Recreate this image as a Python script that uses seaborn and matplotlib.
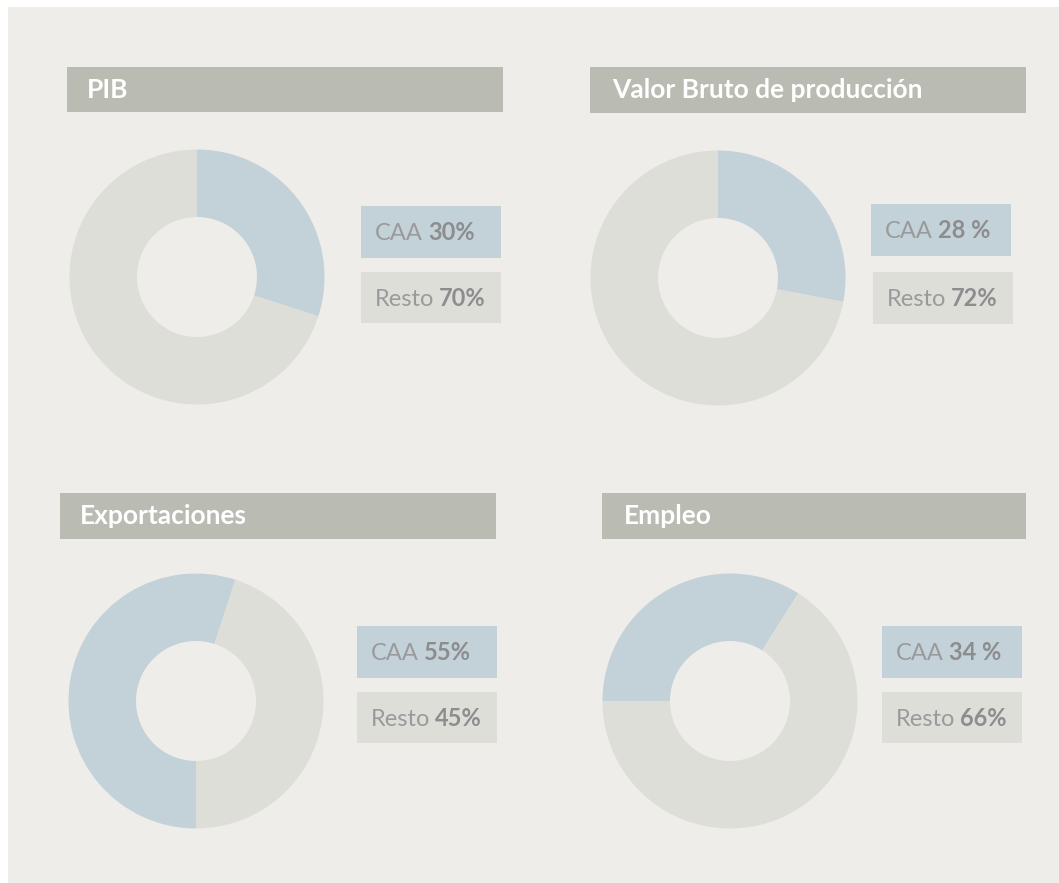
import matplotlib
matplotlib.use("Agg")
import matplotlib.pyplot as plt
import seaborn as sns
from matplotlib.patches import Rectangle

# Data
titles = ["PIB", "Valor Bruto de producción", "Exportaciones", "Empleo"]
caa_values = [30, 28, 55, 34]
resto_values = [70, 72, 45, 66]
caa_labels = ["30%", "28 %", "55%", "34 %"]
resto_labels = ["70%", "72%", "45%", "66%"]
series_names = ["CAA", "Resto"]

# Colours
BG = "#eeede9"
BAR = "#babbb2"
BLUE = "#c3d2d8"
GREY = "#deded9"
TXT = "#9a9a9c"
TXT_B = "#8d8d8f"

# Layout in pixels (x, y measured from top-left)
W, H = 1059, 883
bars = [(67, 67, 503, 112), (590, 67, 1026, 113), (60, 493, 496, 539), (602, 493, 1026, 539)]
title_pad = [20, 22, 20, 22]
centers = [(197, 277), (718, 278), (196, 701), (730, 701)]
start_angles = [90, 90, -90, 180]
caa_boxes = [(361, 206, 501, 258), (871, 204, 1011, 256), (357, 626, 497, 678), (882, 626, 1022, 678)]
resto_boxes = [(361, 272, 501, 323), (873, 272, 1013, 324), (357, 692, 497, 743), (882, 692, 1022, 743)]
R_OUT, R_IN = 127.5, 60

sns.set_theme(style="white")
plt.rcParams['font.family'] = ['Lato', 'DejaVu Sans']

fig = plt.figure(figsize=(W / 100, H / 100), dpi=100, facecolor="white")
ax = fig.add_axes([0, 0, 1, 1])


def Y(py):
    return H - py


ax.add_patch(Rectangle((8, 0), W - 8, H - 7, facecolor=BG, edgecolor="none", zorder=0))

for i in range(4):
    # title bar
    x0, y0, x1, y1 = bars[i]
    ax.add_patch(Rectangle((x0, Y(y1)), x1 - x0, y1 - y0, facecolor=BAR, edgecolor="none", zorder=1))
    ax.text(x0 + title_pad[i], Y(y0 + 31), titles[i], color="white", fontsize=19,
            fontweight="bold", va="baseline", ha="left", zorder=2)

    # donut
    cx, cy = centers[i]
    ax.pie([caa_values[i], resto_values[i]], colors=[BLUE, GREY], startangle=start_angles[i],
           counterclock=False, radius=R_OUT, center=(cx, Y(cy)),
           wedgeprops=dict(width=R_OUT - R_IN, linewidth=0))

# legend boxes
renderer = fig.canvas.get_renderer()
for i in range(4):
    for box, name, lab, col in [(caa_boxes[i], series_names[0], caa_labels[i], BLUE),
                                (resto_boxes[i], series_names[1], resto_labels[i], GREY)]:
        x0, y0, x1, y1 = box
        ax.add_patch(Rectangle((x0, Y(y1)), x1 - x0, y1 - y0, facecolor=col, edgecolor="none", zorder=1))
        base = Y((y0 + y1) / 2 + 8.5)
        t1 = ax.text(x0 + 14, base, name, color=TXT, fontsize=17, va="baseline", ha="left", zorder=2)
        w1 = t1.get_window_extent(renderer).width
        ax.text(x0 + 14 + w1 + 5, base, lab, color=TXT_B, fontsize=17, fontweight="bold",
                va="baseline", ha="left", zorder=2)

ax.set_xlim(0, W)
ax.set_ylim(0, H)
ax.set_aspect("equal")
ax.axis("off")

fig.savefig("out.png", dpi=100, facecolor="white")
